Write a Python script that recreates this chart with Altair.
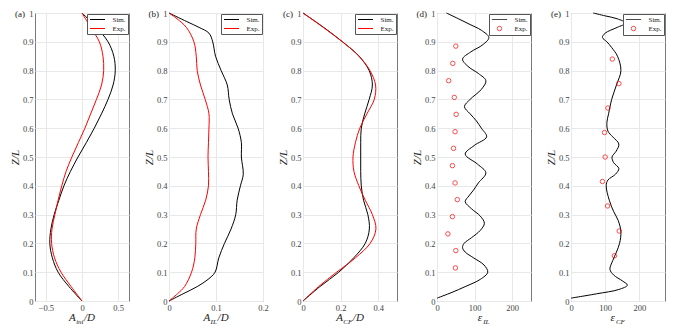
import altair as alt
import pandas as pd

# ---------------- data ----------------
SERIES = ["Sim.", "Exp."]
COLORS = ["black", "red"]
Y_TICKS = [0, 0.1, 0.2, 0.3, 0.4, 0.5, 0.6, 0.7, 0.8, 0.9, 1]

# (a) initial amplitude
z_a = [0, 0.05, 0.1, 0.15, 0.2, 0.25, 0.3, 0.35, 0.4, 0.45, 0.5,
       0.55, 0.6, 0.65, 0.7, 0.75, 0.8, 0.85, 0.9, 0.95, 1.0]
a_ini_sim = [0, -0.18, -0.33, -0.41, -0.445, -0.43, -0.385, -0.32, -0.25, -0.16, -0.055,
             0.06, 0.17, 0.27, 0.36, 0.43, 0.46, 0.44, 0.36, 0.2, 0]
a_ini_exp = [0, -0.15, -0.29, -0.38, -0.42, -0.415, -0.375, -0.33, -0.28, -0.22, -0.14,
             -0.05, 0.04, 0.12, 0.2, 0.27, 0.30, 0.29, 0.24, 0.12, 0]

# (b) in-line amplitude
z_b_sim = [0, 0.025, 0.05, 0.075, 0.1, 0.15, 0.2, 0.25, 0.3, 0.35, 0.4, 0.44, 0.5,
           0.55, 0.6, 0.65, 0.7, 0.75, 0.8, 0.85, 0.9, 0.93, 0.95, 0.97, 1.0]
a_il_sim = [0, 0.03, 0.060, 0.083, 0.098, 0.106, 0.118, 0.132, 0.142, 0.145, 0.152, 0.158, 0.154,
            0.154, 0.147, 0.135, 0.128, 0.124, 0.111, 0.099, 0.093, 0.085, 0.064, 0.038, 0]
z_b_exp = [0, 0.025, 0.05, 0.1, 0.15, 0.2, 0.25, 0.3, 0.35, 0.4, 0.45, 0.5,
           0.55, 0.6, 0.65, 0.7, 0.75, 0.8, 0.85, 0.9, 0.95, 0.98, 1.0]
a_il_exp = [0, 0.018, 0.033, 0.048, 0.055, 0.057, 0.058, 0.067, 0.078, 0.084, 0.084, 0.083,
            0.084, 0.085, 0.085, 0.077, 0.067, 0.060, 0.058, 0.053, 0.037, 0.017, 0]

# (c) cross-flow amplitude
z_c = [0, 0.05, 0.1, 0.15, 0.2, 0.25, 0.3, 0.35, 0.4, 0.45, 0.5,
       0.55, 0.6, 0.65, 0.7, 0.75, 0.8, 0.85, 0.9, 0.95, 1.0]
a_cf_sim = [0, 0.090, 0.19, 0.27, 0.331, 0.353, 0.345, 0.322, 0.31, 0.307, 0.307,
            0.307, 0.31, 0.328, 0.352, 0.369, 0.352, 0.298, 0.21, 0.11, 0]
a_cf_exp = [0, 0.083, 0.179, 0.279, 0.357, 0.388, 0.369, 0.331, 0.297, 0.271, 0.266,
            0.279, 0.302, 0.34, 0.379, 0.386, 0.356, 0.298, 0.21, 0.108, 0]

# (d) in-line strain
z_d_sim = [0.01, 0.03, 0.05, 0.075, 0.1, 0.125, 0.15, 0.17, 0.185, 0.2,
           0.22, 0.245, 0.27, 0.295, 0.32, 0.345, 0.365, 0.385, 0.41, 0.445,
           0.475, 0.51, 0.54, 0.57, 0.6, 0.625, 0.65, 0.675, 0.7, 0.735,
           0.765, 0.79, 0.815, 0.84, 0.865, 0.89, 0.915, 0.94, 0.96, 0.98, 1.0]
eps_il_sim = [0, 40, 75, 115, 135, 125, 97, 75, 68, 72,
              92, 115, 126, 115, 92, 75, 85, 97, 110, 130,
              108, 75, 99, 132, 118, 105, 88, 73, 88, 118,
              130, 110, 82, 68, 90, 122, 138, 118, 88, 57, 25]
z_d_exp = [0.115, 0.175, 0.233, 0.293, 0.352, 0.41, 0.47, 0.53, 0.588, 0.648, 0.707, 0.765, 0.825, 0.885]
eps_il_exp = [49, 50, 29, 41, 54, 48, 41, 44, 48, 51, 46, 31, 42, 50]

# (e) cross-flow strain
z_e_sim = [0.01, 0.025, 0.04, 0.055, 0.07, 0.09, 0.11, 0.14, 0.17, 0.2,
           0.24, 0.28, 0.31, 0.35, 0.4, 0.42, 0.44, 0.46, 0.48, 0.5,
           0.52, 0.545, 0.57, 0.59, 0.62, 0.65, 0.7, 0.75, 0.8, 0.85,
           0.88, 0.9, 0.915, 0.93, 0.95, 0.965, 0.98, 0.99, 1.0]
eps_cf_sim = [0, 75, 140, 165, 150, 125, 114, 122, 133, 142,
              146, 138, 125, 112, 103, 108, 130, 140, 125, 120,
              132, 140, 122, 108, 105, 110, 119, 133, 146, 136,
              119, 105, 92, 100, 135, 160, 135, 100, 65]
z_e_exp = [0.157, 0.243, 0.33, 0.415, 0.5, 0.585, 0.67, 0.755, 0.84]
eps_cf_exp = [127, 141, 107, 92, 100, 98, 108, 140, 121]

# ---------------- layout / style ----------------
FONT = "Liberation Serif"
W, H = 94, 288
LINE_SYM = "M-3,0H3"
LINE_SYM_PT = "M-3.4,0H3.4"
DUMMY = pd.DataFrame({"k": [0]})
MAIN_W = {"A": 6.7, "ε": 4.8}
SUB_W = {"ini": 7.4, "IL": 6.5, "CF": 9.0}
SUFFIX_W = {"/D": 11.0, "": 0.0}


def legend(line_only=True):
    kw = dict(title=None, orient="top-right", offset=1, padding=2,
              fillColor="white", strokeColor="#555", cornerRadius=0,
              labelFont=FONT, labelFontSize=7, labelColor="#222",
              labelOffset=11.5, symbolOffset=5, symbolStrokeWidth=1, rowPadding=1)
    if line_only:
        kw.update(symbolType=LINE_SYM, symbolSize=25)
    else:
        kw.update(symbolSize=20)
    return alt.Legend(**kw)


def txt(text, x, y, size, style="italic", baseline="alphabetic", align="left"):
    return alt.Chart(DUMMY).mark_text(
        text=text, font=FONT, fontSize=size, fontStyle=style,
        align=align, baseline=baseline, color="#222"
    ).encode(x=alt.value(x), y=alt.value(y))


def decorations(letter, main, sub, suffix):
    m, s, f = MAIN_W[main], SUB_W[sub], SUFFIX_W[suffix]
    left = W / 2 - (m + s + f + 1) / 2
    layers = [
        txt(f"({letter})", -10, 1, 9, style="normal", baseline="middle", align="right"),
        txt(main, left, H + 20, 11),
        txt(sub, left + m + 0.5, H + 23, 7),
    ]
    if suffix:
        layers.append(txt(suffix, left + m + s + 1, H + 20, 11))
    return layers


def enc_xy(domain, ticks):
    x = alt.X("v:Q", scale=alt.Scale(domain=domain, nice=False, zero=False),
              axis=alt.Axis(values=ticks, title=None, format="~r", labelFlush=False))
    y = alt.Y("z:Q", scale=alt.Scale(domain=[0, 1], nice=False),
              axis=alt.Axis(values=Y_TICKS, format="~r", title="Z/L"))
    return x, y


def line_panel(letter, domain, ticks, zs, vs, ze, ve, sub):
    df = pd.concat([
        pd.DataFrame({"z": zs, "v": vs, "series": "Sim."}),
        pd.DataFrame({"z": ze, "v": ve, "series": "Exp."}),
    ])
    x, y = enc_xy(domain, ticks)
    lines = alt.Chart(df).mark_line(strokeWidth=1, interpolate="catmull-rom").encode(
        x=x, y=y, order=alt.Order("z:Q"),
        color=alt.Color("series:N", scale=alt.Scale(domain=SERIES, range=COLORS), legend=legend(True)),
    )
    return alt.layer(lines, *decorations(letter, "A", sub, "/D")).properties(width=W, height=H)


def strain_panel(letter, domain, ticks, zs, vs, ze, ve, sub):
    x, y = enc_xy(domain, ticks)
    line = alt.Chart(pd.DataFrame({"z": zs, "v": vs})).mark_line(
        color="black", strokeWidth=1, interpolate="catmull-rom"
    ).encode(x=x, y=y, order=alt.Order("z:Q"))
    pts = alt.Chart(pd.DataFrame({"z": ze, "v": ve, "series": "Exp."})).mark_point(
        filled=False, size=20, strokeWidth=1
    ).encode(
        x=x, y=y,
        color=alt.Color("series:N", scale=alt.Scale(domain=SERIES, range=COLORS), legend=legend(False)),
        shape=alt.Shape("series:N", scale=alt.Scale(domain=SERIES, range=[LINE_SYM_PT, "circle"]),
                        legend=legend(False)),
    )
    return alt.layer(line, pts, *decorations(letter, "ε", sub, "")).properties(width=W, height=H)


pa = line_panel("a", [-0.65, 0.65], [-0.5, 0, 0.5], z_a, a_ini_sim, z_a, a_ini_exp, "ini")
pb = line_panel("b", [0, 0.2], [0, 0.1, 0.2], z_b_sim, a_il_sim, z_b_exp, a_il_exp, "IL")
pc = line_panel("c", [0, 0.5], [0, 0.2, 0.4], z_c, a_cf_sim, z_c, a_cf_exp, "CF")
pd_ = strain_panel("d", [0, 250], [0, 100, 200], z_d_sim, eps_il_sim, z_d_exp, eps_il_exp, "IL")
pe = strain_panel("e", [0, 275], [0, 100, 200], z_e_sim, eps_cf_sim, z_e_exp, eps_cf_exp, "CF")

chart = alt.hconcat(pa, pb, pc, pd_, pe, spacing=40, bounds="flush").resolve_scale(
    x="independent", y="independent", color="independent", shape="independent"
).resolve_legend(color="independent", shape="independent").properties(
    padding={"left": 0, "top": 0, "right": 0, "bottom": 0}
).configure_view(
    stroke="#7a7a7a", strokeWidth=1
).configure_axis(
    domain=False, ticks=False, grid=True, gridColor="#e8e8e8", gridWidth=1,
    labelFont=FONT, labelFontSize=8.5, labelColor="#444", labelPadding=2,
    titleFont=FONT, titleFontSize=11, titleFontStyle="italic", titleFontWeight="normal",
    titleColor="#222", titlePadding=2
)

chart.save("out.html", embed_options={"renderer": "svg", "actions": False})
